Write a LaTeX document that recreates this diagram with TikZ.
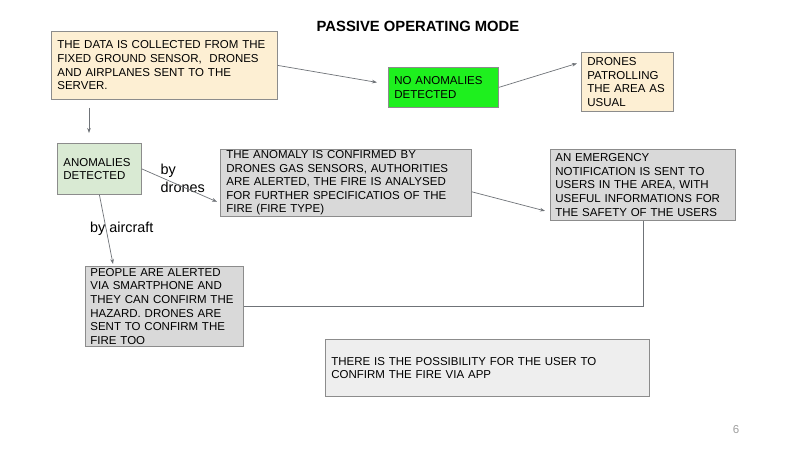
\documentclass[tikz,border=0pt]{standalone}
\usepackage{fontspec}
\setmainfont{Liberation Sans}
\usetikzlibrary{arrows.meta}
\definecolor{tanfill}{HTML}{FDEFD3}
\definecolor{greenfill}{HTML}{1EF01E}
\definecolor{lgreenfill}{HTML}{D9EAD3}
\definecolor{grayfill}{HTML}{D9D9D9}
\definecolor{lgrayfill}{HTML}{EEEEEE}
\definecolor{bordergray}{HTML}{8C8C8C}
\definecolor{linegray}{HTML}{6F7378}
\definecolor{pagegray}{HTML}{9E9E9E}
\tikzset{
  box/.style={draw=bordergray, line width=0.8pt, rectangle, inner xsep=6pt, inner ysep=1pt,
    align=left, anchor=north west, font=\fontsize{11.5}{13.6}\selectfont},
  conn/.style={draw=linegray, line width=0.7pt, -{Stealth[length=5pt,width=3.6pt]}},
  plainconn/.style={draw=linegray, line width=0.8pt},
  lbl/.style={inner sep=0pt, align=left, font=\fontsize{14.4}{18}\selectfont},
}
\begin{document}
\begin{tikzpicture}[x=1pt,y=-1pt]
\useasboundingbox[fill=white] (0,0) rectangle (800,450);

\node[font=\fontsize{14.8}{17}\selectfont\bfseries, inner sep=0pt] (title) at (418,26.5) {PASSIVE OPERATING MODE};

\node[box, fill=tanfill, minimum width=226pt, minimum height=68pt, text width=214pt] (A) at (51,31)
  {THE DATA IS COLLECTED FROM THE\\FIXED GROUND SENSOR,~ DRONES\\AND AIRPLANES SENT TO THE\\SERVER.};
\node[box, fill=greenfill, minimum width=110pt, minimum height=40pt, text width=98pt] (B) at (388,67)
  {NO ANOMALIES\\DETECTED};
\node[box, fill=tanfill, minimum width=92pt, minimum height=59pt, text width=80pt] (C) at (581,52)
  {DRONES\\PATROLLING\\THE AREA AS\\USUAL};
\node[box, fill=lgreenfill, minimum width=84pt, minimum height=51pt, text width=72pt] (D) at (57,143)
  {ANOMALIES\\DETECTED};
\node[box, fill=grayfill, minimum width=251pt, minimum height=66pt, text width=239pt] (E) at (220,149)
  {THE ANOMALY IS CONFIRMED BY\\DRONES GAS SENSORS, AUTHORITIES\\ARE ALERTED, THE FIRE IS ANALYSED\\FOR FURTHER SPECIFICATIOS OF THE\\FIRE (FIRE TYPE)};
\node[box, fill=grayfill, inner xsep=5pt, minimum width=185pt, minimum height=71pt, text width=175pt] (F) at (550,149)
  {AN EMERGENCY\\NOTIFICATION IS SENT TO\\USERS IN THE AREA, WITH\\USEFUL INFORMATIONS FOR\\THE SAFETY OF THE USERS};
\node[box, fill=grayfill, inner xsep=5pt, minimum width=158pt, minimum height=80pt, text width=148pt] (G) at (85,266)
  {PEOPLE ARE ALERTED\\VIA SMARTPHONE AND\\THEY CAN CONFIRM THE\\HAZARD. DRONES ARE\\SENT TO CONFIRM THE\\FIRE TOO};
\node[box, fill=lgrayfill, minimum width=324pt, minimum height=57pt, text width=312pt] (H) at (325,339)
  {THERE IS THE POSSIBILITY FOR THE USER TO\\CONFIRM THE FIRE VIA APP};

\node[lbl, anchor=north west] (bydrones) at (160.5,164) {by\\drones};
\node[lbl, anchor=base west] (byaircraft) at (90,232.7) {by aircraft};

\node[text=pagegray, font=\fontsize{11.5}{13}\selectfont, inner sep=0pt] (page) at (736,430) {6};

\draw[conn] (A.east) -- ([shift={(-11,-5)}]B.west);
\draw[conn] (B.east) -- ([shift={(-4,-18.5)}]C.west);
\draw[conn] ([shift={(38,8)}]A.south west) -- ([shift={(32,-10)}]D.north west);
\draw[conn] (D.east) -- ([shift={(-3,19)}]E.west);
\draw[conn] (D.south) -- ([shift={(28,-2)}]G.north west);
\draw[conn] ([shift={(0,9)}]E.east) -- ([shift={(-5,26)}]F.west);
\draw[plainconn] (F.south) |- (G.east);
\end{tikzpicture}
\end{document}
